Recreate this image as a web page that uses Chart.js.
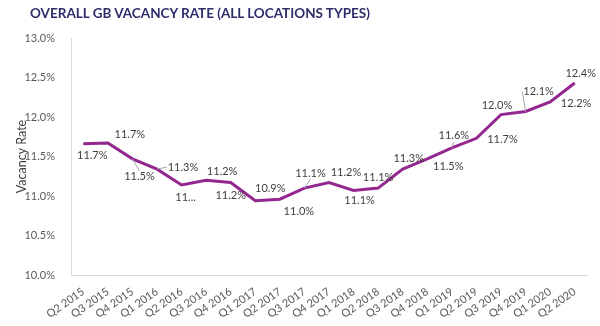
<!DOCTYPE html>
<html>
<head>
<meta charset="utf-8">
<script src="https://cdn.jsdelivr.net/npm/chart.js@4"></script>
<style>
  html, body { margin: 0; padding: 0; background: #fff; }
  #wrap { position: relative; width: 600px; height: 326px; }
  #title {
    position: absolute; left: 30px; top: 5px;
    font: bold 13.5px Lato, sans-serif; color: #2e2d6b;
  }
</style>
</head>
<body>
<div id="wrap">
  <canvas id="vacancyChart" width="600" height="326"></canvas>
  <div id="title">OVERALL GB VACANCY RATE (ALL LOCATIONS TYPES)</div>
</div>
<script>
let quarters = ["Q2 2015", "Q3 2015", "Q4 2015", "Q1 2016", "Q2 2016", "Q3 2016", "Q4 2016",
  "Q1 2017", "Q2 2017", "Q3 2017", "Q4 2017", "Q1 2018", "Q2 2018", "Q3 2018", "Q4 2018",
  "Q1 2019", "Q2 2019", "Q3 2019", "Q4 2019", "Q1 2020", "Q2 2020"]
let vacancyRate = [11.66, 11.67, 11.47, 11.34, 11.14, 11.20, 11.17,
  10.94, 10.96, 11.10, 11.17, 11.07, 11.10, 11.34, 11.47,
  11.61, 11.73, 12.03, 12.07, 12.19, 12.43]
let yTicks = [10.0, 10.5, 11.0, 11.5, 12.0, 12.5, 13.0]

// label offsets from each point (dx, dy) and whether a leader line is drawn
let labelOffsets = [
  [9, 12], [22, -9], [7, 18, true], [26, -2, true], [4, 13], [16, -9], [0, 13],
  [15, -12], [19, 12], [6, -15, true], [17, -10], [6, 10], [0, -11], [6, -11],
  [21, 8], [2, -12, true], [26, 1], [-4, -9], [13, -20, true], [26, 1], [6, -10]
]
// labels that don't fit get cut short
let shortLabels = [4]

let pointLabels = {
  id: "pointLabels",
  afterDatasetsDraw(chart) {
    let ctx = chart.ctx
    let meta = chart.getDatasetMeta(0)
    ctx.save()
    ctx.font = "11px Lato, sans-serif"
    ctx.textAlign = "center"
    ctx.textBaseline = "middle"
    meta.data.forEach((pt, i) => {
      let v = chart.data.datasets[0].data[i]
      let text = v.toFixed(1) + "%"
      if (shortLabels.includes(i)) text = text.slice(0, 2) + "..."
      let [dx, dy, leader] = labelOffsets[i]
      let lx = pt.x + dx, ly = pt.y + dy
      if (leader) {
        let w = ctx.measureText(text).width
        let ex = dx > 12 ? lx - w / 2 - 1 : lx
        let ey = dx > 12 ? ly : (dy < 0 ? ly + 6 : ly - 6)
        ctx.strokeStyle = "#a6a6a6"
        ctx.lineWidth = 1
        ctx.beginPath()
        ctx.moveTo(pt.x, pt.y)
        ctx.lineTo(ex, ey)
        ctx.stroke()
      }
      ctx.fillStyle = "#404040"
      ctx.fillText(text, lx, ly)
    })
    ctx.restore()
  }
}

let canvasElement = document.getElementById("vacancyChart")
let config = {
  type: "line",
  data: {
    labels: quarters,
    datasets: [{
      label: "Vacancy Rate",
      data: vacancyRate,
      borderColor: "#93278f",
      borderWidth: 3,
      pointRadius: 0,
      tension: 0,
      fill: false,
    }],
  },
  options: {
    responsive: false,
    animation: false,
    layout: { padding: { left: 14, right: 13, top: 38, bottom: 4 } },
    plugins: {
      legend: { display: false },
      tooltip: { enabled: false },
    },
    scales: {
      x: {
        offset: true,
        grid: { display: false },
        border: { color: "#d9d9d9" },
        ticks: {
          color: "#595959",
          font: { family: "Lato", size: 11 },
          minRotation: 35,
          maxRotation: 35,
          autoSkip: false,
          padding: 2,
        },
        afterFit(scale) { scale.height = 47 },
      },
      y: {
        min: 10,
        max: 13,
        afterBuildTicks(scale) { scale.ticks = yTicks.map(v => ({ value: v })) },
        grid: { display: false },
        border: { color: "#d9d9d9" },
        ticks: {
          color: "#595959",
          font: { family: "Lato", size: 11 },
          padding: 8,
          callback: v => v.toFixed(1) + "%",
        },
        title: {
          display: true,
          text: "Vacancy Rate",
          color: "#404040",
          font: { family: "Lato", size: 12.5 },
          padding: 0,
        },
        afterFit(scale) { scale.width = 57 },
      },
    },
  },
  plugins: [pointLabels],
}
let vacancyChart = new Chart(canvasElement, config)
</script>
</body>
</html>
